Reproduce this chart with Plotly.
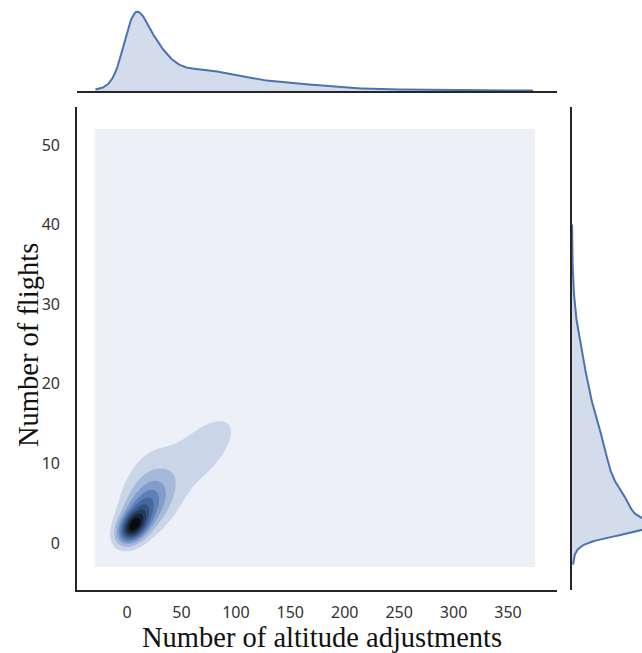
import colorsys
import numpy as np
import plotly.graph_objects as go

# Flight clusters behind the density estimate: relative share of flights,
# centre and spread in (altitude adjustments, number of flights), correlation.
cluster_share = [53, 33, 75, 43, 85, 95, 13]
cluster_adjust_mean = [5, 12, 22, 13, 62, 120, 290]
cluster_flights_mean = [1.9, 3.7, 5.0, 7.5, 10.5, 17.5, 24]
cluster_adjust_sd = [9, 11, 16, 18, 29.8, 55, 55]
cluster_flights_sd = [1.0, 1.6, 2.6, 4.3, 4.2, 6.0, 6.5]
cluster_corr = [0.5, 0.55, 0.35, 0.45, 0.6, 0.5, 0.3]

# extra kernel width used by the two-dimensional estimate
joint_bandwidth = (2.0, 0.9)

# evaluation windows of the estimates
grid_adjust = (-30, 375)
grid_flights = (-3, 52)
marg_adjust = (-29, 373)
marg_flights = (-2.7, 40)

x_ticks = [0, 50, 100, 150, 200, 250, 300, 350]
y_ticks = [0, 10, 20, 30, 40, 50]

BASE = "#4c72b0"
W, H = 642, 653


def joint_density(X, Y):
    hx, hy = joint_bandwidth
    z = np.zeros_like(X, dtype=float)
    for w, mx, my, sx, sy, r in zip(cluster_share, cluster_adjust_mean, cluster_flights_mean,
                                    cluster_adjust_sd, cluster_flights_sd, cluster_corr):
        cxx = sx * sx + hx * hx
        cyy = sy * sy + hy * hy
        cxy = r * sx * sy
        det = cxx * cyy - cxy * cxy
        dx = X - mx
        dy = Y - my
        q = (cyy * dx * dx - 2 * cxy * dx * dy + cxx * dy * dy) / det
        z += w / (2 * np.pi * np.sqrt(det)) * np.exp(-0.5 * q)
    return z


def marginal(v, means, sds):
    d = np.zeros_like(v, dtype=float)
    for w, m, s in zip(cluster_share, means, sds):
        d += w / (s * np.sqrt(2 * np.pi)) * np.exp(-0.5 * ((v - m) / s) ** 2)
    return d


gx = np.linspace(*grid_adjust, 240)
gy = np.linspace(*grid_flights, 240)
GX, GY = np.meshgrid(gx, gy)
Z = joint_density(GX, GY)
Z = 10 * Z / Z.max()  # ten equal bands from 0 to the peak

mx_v = np.linspace(*marg_adjust, 400)
mx_d = marginal(mx_v, cluster_adjust_mean, cluster_adjust_sd)
my_v = np.linspace(*marg_flights, 400)
my_d = marginal(my_v, cluster_flights_mean, cluster_flights_sd)

# light-to-dark palette in the hue of the base colour
r0, g0, b0 = [int(BASE[i:i + 2], 16) / 255 for i in (1, 3, 5)]
h0, l0, s0 = colorsys.rgb_to_hls(r0, g0, b0)
scale = []
for k in range(10):
    lum = 1 - (k + 0.5) / 10
    r, g, b = colorsys.hls_to_rgb(h0, lum, s0)
    scale.append([k / 9, "rgb(%d,%d,%d)" % (round(r * 255), round(g * 255), round(b * 255))])


def px_x(p):
    return p / W


def px_y(p):
    return (H - p) / H


# pixel layout of the three panels
left, right = 77, 557
top, bottom = 107, 590
x_rng = [(left - 127) / 1.0886, (right - 127) / 1.0886]
y_rng = [(543 - bottom) / 7.96, (543 - top) / 7.96]

fig = go.Figure()
fig.add_trace(go.Contour(
    x=gx, y=gy, z=Z, autocontour=False,
    contours=dict(start=1, end=9, size=1, coloring="fill", showlines=False),
    colorscale=scale, showscale=False, line=dict(width=0),
    hoverinfo="skip", xaxis="x", yaxis="y"))

fig.add_trace(go.Scatter(
    x=mx_v, y=mx_d, mode="lines", fill="tozeroy",
    line=dict(color=BASE, width=2), fillcolor="rgba(76,114,176,0.25)",
    xaxis="x2", yaxis="y2", showlegend=False))

fig.add_trace(go.Scatter(
    x=my_d, y=my_v, mode="lines", fill="tozerox",
    line=dict(color=BASE, width=2), fillcolor="rgba(76,114,176,0.25)",
    xaxis="x3", yaxis="y3", showlegend=False))

spine = dict(showline=True, linecolor="#262626", linewidth=1.7, showgrid=False,
             zeroline=False, mirror=False)
tickfont = dict(family="Noto Sans, Open Sans, sans-serif", size=16, color="#333333")

top_peak = mx_d.max() * 1.05
right_peak = my_d.max() * 1.05 * (W - 572) / 83.3

title_font = dict(family="Liberation Serif, Times New Roman, serif", size=28.5, color="#111111")

fig.update_layout(
    width=W, height=H, margin=dict(l=0, r=0, t=0, b=0),
    paper_bgcolor="white", plot_bgcolor="white", showlegend=False,
    xaxis=dict(domain=[px_x(left), px_x(right)], range=x_rng, tickvals=x_ticks,
               ticks="outside", ticklen=7, tickcolor="rgba(0,0,0,0)",
               tickfont=tickfont, **spine),
    yaxis=dict(domain=[px_y(bottom), px_y(top)], range=y_rng, tickvals=y_ticks,
               ticks="outside", ticklen=12, tickcolor="rgba(0,0,0,0)",
               tickfont=tickfont, **spine),
    xaxis2=dict(domain=[px_x(left), px_x(right)], range=x_rng, anchor="y2",
                showticklabels=False, **spine),
    yaxis2=dict(domain=[px_y(91), px_y(7.7)], range=[0, top_peak], anchor="x2",
                showticklabels=False, showline=False, showgrid=False, zeroline=False),
    xaxis3=dict(domain=[px_x(572), 1.0], range=[0, right_peak], anchor="y3",
                showticklabels=False, showline=False, showgrid=False, zeroline=False),
    yaxis3=dict(domain=[px_y(bottom), px_y(top)], range=y_rng, anchor="x3",
                showticklabels=False, **spine),
    annotations=[
        dict(text="Number of altitude adjustments", xref="paper", yref="paper",
             x=px_x(322), y=px_y(637), xanchor="center", yanchor="middle",
             showarrow=False, font=title_font),
        dict(text="Number of flights", xref="paper", yref="paper",
             x=px_x(28), y=px_y(345), xanchor="center", yanchor="middle", textangle=-90,
             showarrow=False, font=title_font),
    ],
)

fig.write_html("out.html")
